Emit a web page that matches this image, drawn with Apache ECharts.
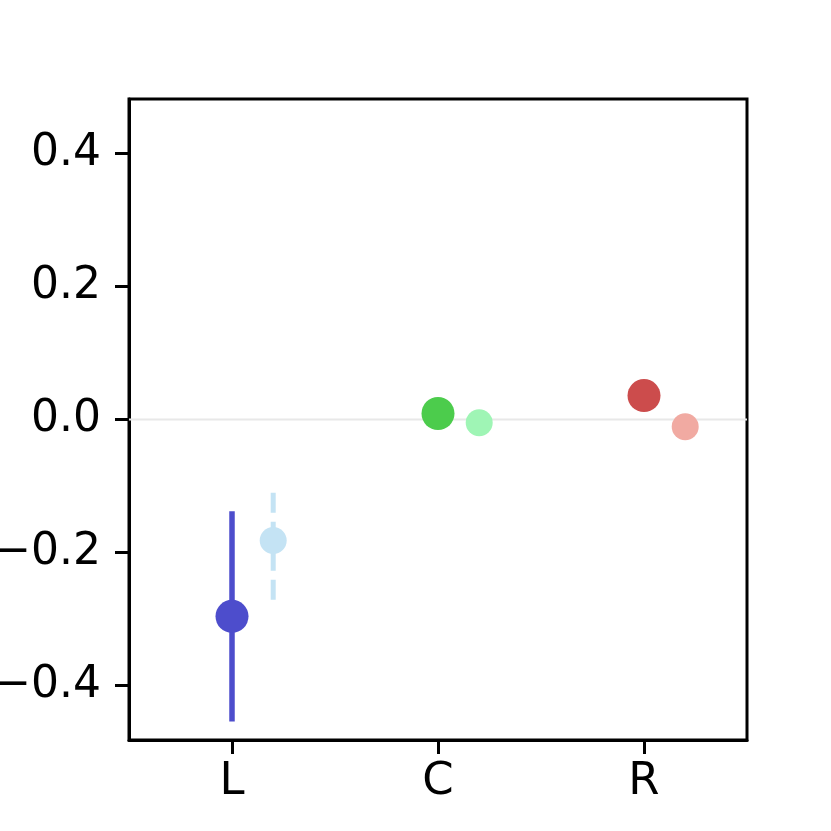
<!DOCTYPE html>
<html>
<head>
<meta charset="utf-8">
<script src="https://cdn.jsdelivr.net/npm/echarts@6/dist/echarts.min.js"></script>
<style>html,body{margin:0;padding:0;background:#fff;}#c{width:831px;height:831px;}</style>
</head>
<body>
<div id="c"></div>
<script>
const categories = ['L', 'C', 'R'];
const mainValues = [-0.296, 0.009, 0.036];
const mainLow = [-0.454, null, null];
const mainHigh = [-0.138, null, null];
const secondValues = [-0.182, -0.005, -0.011];
const secondLow = [-0.271, null, null];
const secondHigh = [-0.107, null, null];
const yTicks = [-0.4, -0.2, 0.0, 0.2, 0.4];

const mainColors = ['#4d4dcc', '#4ccc4c', '#cc4c4c'];
const secondColors = ['#c4e3f4', '#9ff5b5', '#f1aaa2'];
const OFFSET = 0.2;
const FONT = 'DejaVu Sans';

const chart = echarts.init(document.getElementById('c'));

function errData(vals, lo, hi, off) {
  const out = [];
  vals.forEach((v, i) => { if (lo[i] != null) out.push([i + off, lo[i], hi[i]]); });
  return out;
}
function errSeries(data, colorsArr, offset, dashed) {
  return {
    type: 'custom', z: 3,
    data: data,
    renderItem: function (params, api) {
      const x = api.value(0);
      const p1 = api.coord([x, api.value(1)]);
      const p2 = api.coord([x, api.value(2)]);
      const idx = Math.round(x - offset);
      return {
        type: 'line',
        shape: { x1: p1[0], y1: p1[1], x2: p2[0], y2: p2[1] },
        style: { stroke: colorsArr[idx], lineWidth: dashed ? 5 : 5.5, lineDash: dashed ? [20, 9] : null }
      };
    }
  };
}

chart.setOption({
  animation: false,
  backgroundColor: '#fff',
  grid: { left: 129, right: 84, top: 99, bottom: 91, show: true, borderColor: '#000', borderWidth: 3,
    backgroundColor: 'transparent', containLabel: false, outerBoundsMode: 'none' },
  xAxis: {
    type: 'value', min: -0.5, max: 2.5,
    splitLine: { show: false },
    axisLine: { show: true, onZero: false, lineStyle: { color: '#000', width: 3 } },
    axisTick: { show: true, length: 14, lineStyle: { color: '#000', width: 3 }, customValues: [0, 1, 2] },
    axisLabel: { customValues: [0, 1, 2], margin: 20, color: '#000', fontFamily: FONT, fontSize: 45,
      formatter: v => categories[Math.round(v)] }
  },
  yAxis: {
    type: 'value', min: -0.482, max: 0.482,
    splitLine: { show: false },
    axisLine: { show: true, onZero: false, lineStyle: { color: '#000', width: 3 } },
    axisTick: { show: true, length: 14, lineStyle: { color: '#000', width: 3 }, customValues: yTicks },
    axisLabel: { customValues: yTicks, margin: 28, color: '#000', fontFamily: FONT, fontSize: 44,
      formatter: v => v.toFixed(1).replace('-', '\u2212').replace(/^\u22120\.0$/, '0.0') }
  },
  series: [
    {
      type: 'line', data: [[-0.5, 0], [2.5, 0]], symbol: 'none', z: 1,
      lineStyle: { color: '#e8e8e8', width: 2 }, silent: true
    },
    errSeries(errData(mainValues, mainLow, mainHigh, 0), mainColors, 0, false),
    errSeries(errData(secondValues, secondLow, secondHigh, OFFSET), secondColors, OFFSET, true),
    {
      type: 'scatter', z: 5, symbolSize: 33,
      data: mainValues.map((v, i) => ({ value: [i, v], itemStyle: { color: mainColors[i], opacity: 1 } }))
    },
    {
      type: 'scatter', z: 5, symbolSize: 27,
      data: secondValues.map((v, i) => ({ value: [i + OFFSET, v], itemStyle: { color: secondColors[i], opacity: 1 } }))
    }
  ]
});
</script>
</body>
</html>
